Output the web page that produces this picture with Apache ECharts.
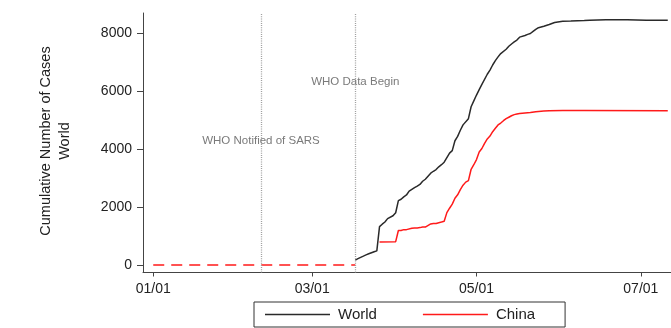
<!DOCTYPE html>
<html>
<head>
<meta charset="utf-8">
<script src="https://cdn.jsdelivr.net/npm/echarts@6/dist/echarts.min.js"></script>
<style>
  html, body { margin: 0; padding: 0; background: #fff; }
  #chart { width: 671px; height: 328px; }
</style>
</head>
<body>
<div id="chart"></div>
<script>
// Cumulative SARS cases, 2003 (dates as MM/DD)
var worldDates = ['03/17','03/18','03/19','03/20','03/21','03/22','03/24','03/25','03/26','03/27','03/28','03/29','03/31',
  '04/01','04/02','04/03','04/04','04/05','04/06','04/08','04/09','04/10','04/11','04/12','04/14','04/15','04/16','04/17',
  '04/18','04/19','04/21','04/22','04/23','04/24','04/25','04/26','04/28','04/29','04/30','05/01','05/02','05/03','05/05',
  '05/06','05/07','05/08','05/09','05/10','05/12','05/13','05/14','05/15','05/16','05/17','05/19','05/20','05/21','05/22',
  '05/23','05/24','05/26','05/28','05/30','06/02','06/05','06/10','06/12','06/18','06/26','07/03','07/11'];
var worldCases = [167,219,264,306,350,386,456,487,1323,1408,1485,1600,1700,
  1804,2223,2270,2353,2416,2550,2671,2722,2781,2890,2960,3169,3235,3293,3389,
  3461,3547,3861,3947,4288,4439,4649,4836,5050,5462,5663,5865,6054,6234,6583,
  6727,6903,7053,7183,7296,7447,7548,7628,7699,7761,7864,7919,7960,7990,8060,
  8130,8190,8240,8300,8370,8410,8420,8440,8450,8465,8462,8450,8445];

var chinaDates = ['03/26','04/01','04/02','04/03','04/04','04/05','04/07','04/08','04/09','04/10','04/11','04/12','04/14',
  '04/15','04/16','04/17','04/18','04/19','04/20','04/21','04/22','04/23','04/24','04/25','04/26','04/27','04/28','04/29',
  '04/30','05/01','05/02','05/03','05/04','05/05','05/06','05/07','05/08','05/09','05/10','05/11','05/12','05/13','05/14',
  '05/15','05/16','05/17','05/19','05/21','05/23','05/26','05/28','06/02','06/10','07/11'];
var chinaCases = [792,806,1190,1190,1220,1220,1268,1279,1280,1290,1309,1309,1418,
  1432,1432,1457,1482,1512,1807,1959,2100,2305,2422,2601,2753,2860,2914,3303,
  3460,3638,3900,4020,4200,4350,4450,4600,4720,4834,4900,4980,5050,5100,5150,
  5190,5210,5225,5248,5260,5290,5316,5323,5328,5328,5327];

// Zero baseline before reporting started
var baselineDates = ['01/01','03/17'];
var baselineCases = [0, 0];

// Event markers
var eventDates = ['02/10','03/17'];
var eventLabels = ['WHO Notified of SARS','WHO Data Begin'];
var eventLabelHeights = [4290, 6320];

// Axis ticks
var xTickDates = ['01/01','03/01','05/01','07/01'];
var yTicks = [0, 2000, 4000, 6000, 8000];

function dayOfYear(md) {
  var p = md.split('/');
  return (Date.UTC(2003, +p[0] - 1, +p[1]) - Date.UTC(2003, 0, 1)) / 86400000;
}
function pairs(dates, vals) {
  return dates.map(function (d, i) { return [dayOfYear(d), vals[i]]; });
}
var xTicks = xTickDates.map(dayOfYear);
var tickLabelByDay = {};
xTickDates.forEach(function (d) { tickLabelByDay[dayOfYear(d)] = d; });

var FONT = 'Liberation Sans, Arial, sans-serif';
var chart = echarts.init(document.getElementById('chart'));

chart.setOption({
  backgroundColor: '#ffffff',
  animation: false,
  grid: { left: 143, right: 0, top: 13, bottom: 55.5, containLabel: false },
  xAxis: {
    type: 'value',
    min: -3.8,
    max: 192.2,
    axisLine: { show: true, onZero: false, lineStyle: { color: '#444', width: 1 } },
    axisTick: { show: true, length: 4, customValues: xTicks, lineStyle: { color: '#444' } },
    axisLabel: {
      customValues: xTicks,
      margin: 10,
      fontFamily: FONT, fontSize: 14, color: '#222',
      formatter: function (v) { return tickLabelByDay[v] || ''; }
    },
    splitLine: { show: false }
  },
  yAxis: {
    type: 'value',
    min: -259,
    max: 8697,
    axisLine: { show: true, onZero: false, lineStyle: { color: '#444', width: 1 } },
    axisTick: { show: true, length: 6, customValues: yTicks, lineStyle: { color: '#444' } },
    axisLabel: {
      customValues: yTicks,
      margin: 11,
      fontFamily: FONT, fontSize: 14, color: '#222',
      formatter: function (v) { return String(v); }
    },
    splitLine: { show: false }
  },
  legend: {
    data: ['World', 'China'],
    icon: 'rect',
    left: 254,
    top: 302,
    padding: [5, 30, 5, 11],
    itemWidth: 65,
    itemHeight: 1.5,
    itemGap: 46,
    borderColor: '#333',
    borderWidth: 1,
    textStyle: { fontFamily: FONT, fontSize: 15, color: '#222', padding: [0, 0, 0, 3], lineHeight: 15 }
  },
  graphic: [{
    type: 'text',
    x: 55,
    y: 141,
    rotation: Math.PI / 2,
    style: {
      text: 'Cumulative Number of Cases\nWorld',
      font: '14.5px ' + FONT,
      fill: '#222',
      textAlign: 'center',
      textVerticalAlign: 'middle',
      align: 'center',
      verticalAlign: 'middle',
      lineHeight: 19
    }
  }],
  series: [
    {
      name: 'baseline',
      type: 'line',
      data: pairs(baselineDates, baselineCases),
      symbol: 'none',
      lineStyle: { color: '#ff1a1a', width: 1.5, type: [11, 7] },
      z: 3,
      markLine: {
        silent: true,
        symbol: 'none',
        label: { show: false },
        lineStyle: { color: '#a0a0a0', width: 1.3, type: [1, 1.2] },
        data: eventDates.map(function (d) { return { xAxis: dayOfYear(d) }; })
      },
      markPoint: {
        silent: true,
        symbol: 'circle',
        symbolSize: 1,
        itemStyle: { color: 'rgba(0,0,0,0)' },
        label: {
          show: true,
          position: 'inside',
          fontFamily: FONT,
          fontSize: 11.5,
          color: '#7a7a7a',
          formatter: function (p) { return p.name; }
        },
        data: eventDates.map(function (d, i) {
          return { name: eventLabels[i], coord: [dayOfYear(d), eventLabelHeights[i]] };
        })
      }
    },
    {
      name: 'World',
      type: 'line',
      data: pairs(worldDates, worldCases),
      symbol: 'none',
      color: '#2a2a2a',
      lineStyle: { color: '#2a2a2a', width: 1.5 },
      z: 4
    },
    {
      name: 'China',
      type: 'line',
      data: pairs(chinaDates, chinaCases),
      symbol: 'none',
      color: '#ff1a1a',
      lineStyle: { color: '#ff1a1a', width: 1.5 },
      z: 5
    }
  ]
});
</script>
</body>
</html>
